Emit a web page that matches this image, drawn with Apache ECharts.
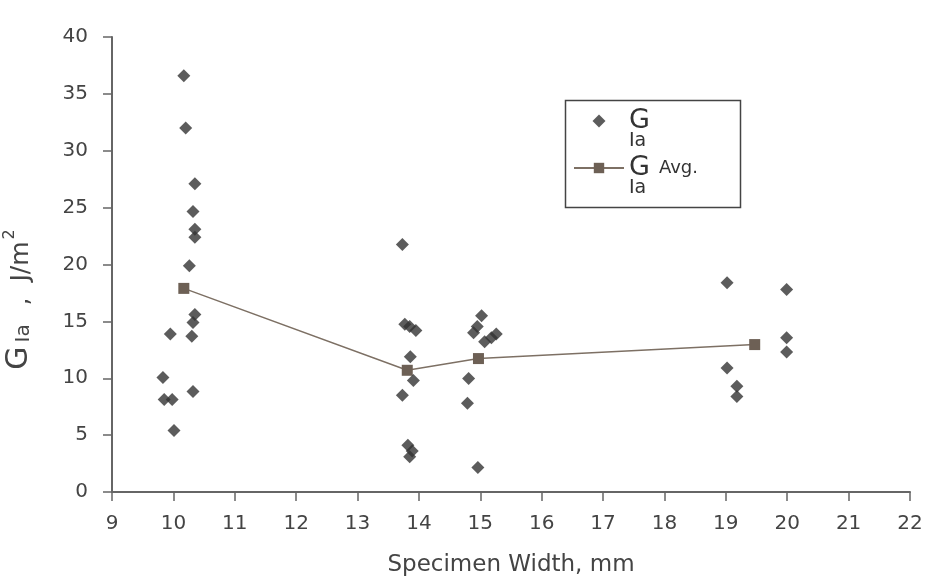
<!DOCTYPE html>
<html><head><meta charset="utf-8">
<script src="https://cdn.jsdelivr.net/npm/echarts@6/dist/echarts.min.js"></script>
<style>html,body{margin:0;padding:0;background:#fff}#c{width:936px;height:583px}</style>
</head><body><div id="c"></div>
<script>
// Individual G_Ia measurements
const gX = [10.17,10.20,10.35,10.32,10.35,10.35,10.26,10.35,10.32,9.95,10.30,9.83,9.85,9.98,10.32,10.01,
            13.73,13.77,13.85,13.95,13.86,13.91,13.73,13.82,13.89,13.85,
            15.02,14.95,14.89,15.07,15.18,15.26,14.81,14.79,14.96,
            19.02,19.02,19.18,19.18,19.99,19.99,19.99];
const gY = [36.6,32.0,27.1,24.65,23.1,22.4,19.9,15.6,14.9,13.9,13.7,10.06,8.13,8.13,8.83,5.4,
            21.75,14.75,14.55,14.2,11.9,9.8,8.5,4.1,3.6,3.1,
            15.5,14.55,14.0,13.2,13.55,13.9,9.97,7.8,2.15,
            18.4,10.9,9.3,8.4,17.8,13.55,12.3];
// Averages
const avgX = [10.17, 13.81, 14.97, 19.47];
const avgY = [17.9, 10.7, 11.73, 12.96];
// Axes
const xMin = 9, xMax = 22, xStep = 1;
const yMin = 0, yMax = 40, yStep = 5;
const seriesNames = ['GIa', 'GIa Avg.'];

const FONT = 'DejaVu Sans';
const TXT = '#444';
const AX = '#666';

const chart = echarts.init(document.getElementById('c'), null, {renderer:'canvas'});
chart.setOption({
  backgroundColor: '#fff',
  animation: false,
  grid: {left: 112, right: 26, top: 37, bottom: 91, containLabel: false, outerBoundsMode: 'none'},
  xAxis: {
    type: 'value', min: xMin, max: xMax, interval: xStep,
    name: 'Specimen Width, mm', nameLocation: 'middle', nameGap: 62,
    nameTextStyle: {fontFamily: FONT, fontSize: 23, color: TXT},
    axisLine: {show: true, onZero: false, lineStyle: {color: AX, width: 2}},
    axisTick: {show: true, inside: false, length: 9, lineStyle: {color: AX, width: 1.5}},
    axisLabel: {margin: 22, fontFamily: FONT, fontSize: 20, color: TXT},
    splitLine: {show: false}
  },
  yAxis: {
    type: 'value', min: yMin, max: yMax, interval: yStep,
    name: '{g|G}{s|Ia}{n|  ,  J/m}{p|2}', nameLocation: 'middle', nameGap: 78,
    nameTextStyle: {fontFamily: FONT, color: TXT, padding: [0, 70, 0, 0],
      rich: {
        g: {fontFamily: FONT, fontSize: 30, color: TXT, lineHeight: 32, verticalAlign: 'bottom', padding: [0, 4, 0, 0]},
        s: {fontFamily: FONT, fontSize: 20, color: TXT, verticalAlign: 'bottom', padding: [0, 3, 0, 0]},
        n: {fontFamily: FONT, fontSize: 25, color: TXT, verticalAlign: 'bottom'},
        p: {fontFamily: FONT, fontSize: 16, color: TXT, verticalAlign: 'top', padding: [0, 0, 0, 2]}
      }},
    axisLine: {show: true, lineStyle: {color: AX, width: 2}},
    axisTick: {show: true, inside: false, length: 9, lineStyle: {color: AX, width: 1.5}},
    axisLabel: {margin: 24, fontFamily: FONT, fontSize: 20, color: TXT},
    splitLine: {show: false}
  },
  legend: {
    orient: 'vertical', left: 573, top: 96, padding: 0,
    itemWidth: 50, itemHeight: 13, itemGap: -7.5,
    data: [
      {name: seriesNames[0], icon: 'path://M0,6.5 M50,6.5 M25,0 L31.5,6.5 L25,13 L18.5,6.5 Z'},
      {name: seriesNames[1]}
    ],
    formatter: function (n) {
      return n === seriesNames[0]
        ? '{e| }\n{g|G}\n{s|Ia}'
        : '{e| }\n{g|G}{a|Avg.}\n{s|Ia}';
    },
    textStyle: {
      fontFamily: FONT, color: '#333',
      rich: {
        e: {fontSize: 10, lineHeight: 17},
        g: {fontFamily: FONT, fontSize: 27, lineHeight: 23, color: '#333'},
        s: {fontFamily: FONT, fontSize: 19, lineHeight: 17, color: '#333'},
        a: {fontFamily: FONT, fontSize: 18, lineHeight: 23, color: '#333', padding: [0, 0, 0, 9]}
      }
    }
  },
  graphic: [{
    type: 'rect', left: 563, top: 98, silent: true,
    shape: {width: 175, height: 107},
    style: {fill: 'none', stroke: '#444', lineWidth: 1.5}
  }],
  series: [
    {
      name: seriesNames[0], type: 'scatter', symbol: 'diamond', symbolSize: 13,
      itemStyle: {color: '#333'},
      data: gX.map((x, i) => [x, gY[i]]), z: 3
    },
    {
      name: seriesNames[1], type: 'line', symbol: 'rect', symbolSize: 11, showSymbol: true,
      lineStyle: {color: '#7d7064', width: 1.5},
      itemStyle: {color: '#6d6055', borderWidth: 0},
      data: avgX.map((x, i) => [x, avgY[i]]), z: 2
    }
  ]
});
</script></body></html>
